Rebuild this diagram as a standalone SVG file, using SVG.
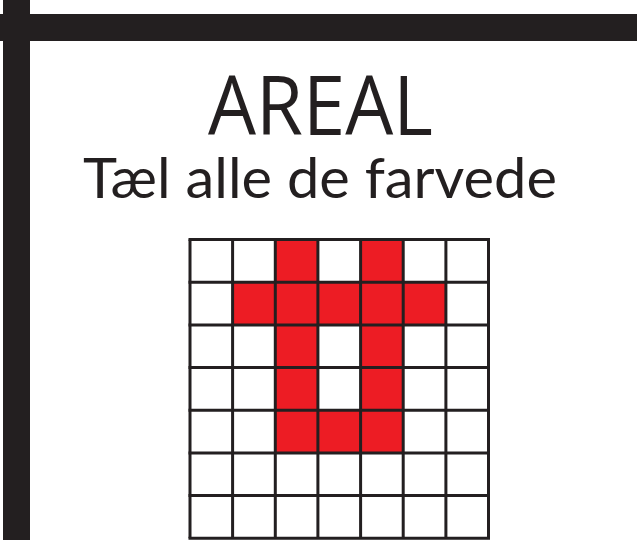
<svg xmlns="http://www.w3.org/2000/svg" width="637" height="540" viewBox="0 0 637 540">
<style>
.bar{fill:#231f20}
.cell{fill:#ffffff;stroke:#231f20;stroke-width:3}
.red{fill:#ed1c24}
.t{fill:#231f20;text-anchor:middle}
</style>
<rect width="637" height="540" fill="#ffffff"/>
<g id="frame">
<rect class="bar" x="0" y="14" width="637" height="27"/>
<rect class="bar" x="3" y="0" width="27" height="540"/>
</g>
<g id="title">
<text class="t" x="320.5" y="135" font-family="Open Sans, sans-serif" font-size="82" textLength="225" lengthAdjust="spacingAndGlyphs">AREAL</text>
<text class="t" x="320" y="198" font-family="Lato, sans-serif" font-size="56" textLength="474" lengthAdjust="spacingAndGlyphs">Tæl alle de farvede</text>
</g>
<g id="grid">
<rect x="190" y="239.5" width="298.5" height="298.8" fill="#ffffff"/>
<g class="red">
<rect x="275.3" y="239.5" width="42.6" height="42.7"/>
<rect x="360.6" y="239.5" width="42.6" height="42.7"/>
<rect x="232.6" y="282.2" width="213.3" height="42.7"/>
<rect x="275.3" y="324.9" width="42.6" height="85.3"/>
<rect x="360.6" y="324.9" width="42.6" height="85.3"/>
<rect x="275.3" y="410.2" width="127.9" height="42.7"/>
</g>
<g stroke="#231f20" stroke-width="3" fill="none">
<path d="M190 239.5V538.3M232.6 239.5V538.3M275.3 239.5V538.3M317.9 239.5V538.3M360.6 239.5V538.3M403.2 239.5V538.3M445.9 239.5V538.3M488.5 239.5V538.3"/>
<path d="M188.5 239.5H490M188.5 282.2H490M188.5 324.9H490M188.5 367.6H490M188.5 410.2H490M188.5 452.9H490M188.5 495.6H490M188.5 538.3H490"/>
</g>
</g>
</svg>
